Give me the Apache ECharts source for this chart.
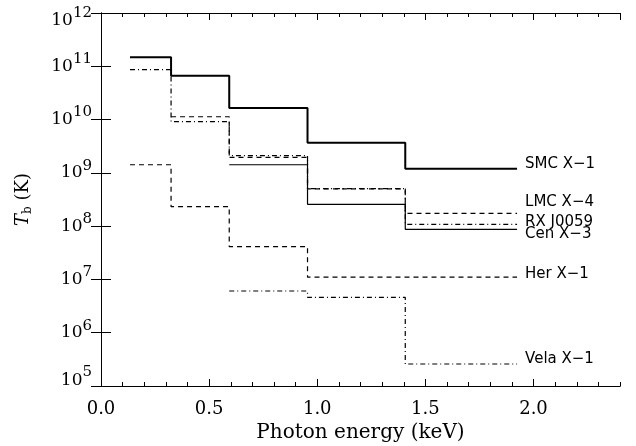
<!DOCTYPE html>
<html>
<head>
<meta charset="utf-8">
<script src="https://cdn.jsdelivr.net/npm/echarts@6/dist/echarts.min.js"></script>
<style>
  html, body {margin: 0; padding: 0; background: #fff;}
  #chart {width: 636px; height: 446px;}
</style>
</head>
<body>
<div id="chart"></div>
<script>
// energy bin edges (keV)
const binEdges = [0.134, 0.324, 0.593, 0.955, 1.407, 1.924]

// brightness temperature per bin (K), null where the source has no value
const smcX1 = [1.47e11, 6.67e10, 1.65e10, 3.69e9, 1.20e9]
const lmcX4 = [null, 1.13e10, 1.96e9, 5.0e8, 1.74e8]
const rxJ0059 = [8.65e10, 9.14e9, 2.10e9, 5.05e8, 1.08e8]
const cenX3 = [null, null, 1.42e9, 2.57e8, 8.7e7]
const herX1 = [1.42e9, 2.32e8, 4.12e7, 1.10e7, 1.10e7]
const velaX1 = [null, null, 6.07e6, 4.62e6, 2.59e5]

const xTicks = [0, 0.5, 1.0, 1.5, 2.0]
const yExponents = [5, 6, 7, 8, 9, 10, 11, 12]

// turn bin values into step points: [left edge, value] ... [last right edge, last value]
function toSteps(values) {
  let pts = []
  for (let i = 0; i < values.length; i++) {
    if (values[i] == null) continue
    pts.push([binEdges[i], values[i]])
  }
  let last = values.length - 1
  pts.push([binEdges[last + 1], values[last]])
  return pts
}

let myChart = echarts.init(document.getElementById('chart'))

const serif = 'DejaVu Serif'
const sans = 'DejaVu Sans'

function stepSeries(name, values, lineType, width, dy) {
  return {
    name: name,
    type: 'line',
    step: 'end',
    data: toSteps(values),
    symbol: 'none',
    silent: true,
    animation: false,
    lineStyle: {color: '#000', width: width, type: lineType},
    endLabel: {
      show: true,
      formatter: name,
      distance: 8,
      offset: [0, dy],
      color: '#000',
      fontFamily: sans,
      fontSize: 15
    }
  }
}

let xBase = {
  type: 'value',
  min: 0,
  max: 2.4,
  splitLine: {show: false},
  axisLine: {show: true, onZero: false, lineStyle: {color: '#000', width: 1}}
}

// y tick label: "10" with the exponent raised; the end labels sit inside the frame
function yLabel(v) {
  let e = Math.round(Math.log10(v))
  if (!yExponents.includes(e)) return ''
  let k = e === 12 ? 'top' : (e === 5 ? 'bot' : 'mid')
  return '{b' + k + '|10}{s' + k + '|' + e + '}'
}

const bStyle = {color: '#000', fontFamily: serif, fontSize: 17}
const sStyle = {color: '#000', fontFamily: serif, fontSize: 15}

let option = {
  backgroundColor: '#fff',
  animation: false,
  grid: {left: 101, right: 16, top: 13, bottom: 60, containLabel: false, outerBoundsMode: 'none'},
  xAxis: [
    Object.assign({}, xBase, {
      position: 'bottom',
      interval: 0.5,
      axisTick: {inside: true, length: 7, lineStyle: {color: '#000'}},
      axisLabel: {
        showMaxLabel: false,
        margin: 14,
        color: '#000',
        fontFamily: serif,
        fontSize: 18,
        formatter: v => xTicks.includes(v) ? v.toFixed(1) : ''
      },
      name: 'Photon energy (keV)',
      nameLocation: 'middle',
      nameGap: 37,
      nameTextStyle: {color: '#000', fontFamily: serif, fontSize: 20}
    }),
    Object.assign({}, xBase, {
      position: 'bottom',
      interval: 0.1,
      axisTick: {inside: true, length: 4, lineStyle: {color: '#000'}},
      axisLabel: {show: false}
    }),
    Object.assign({}, xBase, {
      position: 'top',
      interval: 0.5,
      axisTick: {inside: true, length: 7, lineStyle: {color: '#000'}},
      axisLabel: {show: false}
    }),
    Object.assign({}, xBase, {
      position: 'top',
      interval: 0.1,
      axisTick: {inside: true, length: 4, lineStyle: {color: '#000'}},
      axisLabel: {show: false}
    })
  ],
  yAxis: [
    {
      type: 'log',
      logBase: 10,
      min: 1e5,
      max: 1e12,
      splitNumber: 7,
      position: 'left',
      splitLine: {show: false},
      axisLine: {show: true, lineStyle: {color: '#000', width: 1}},
      axisTick: {inside: true, length: 10, lineStyle: {color: '#000'}},
      axisLabel: {
        margin: 9,
        formatter: yLabel,
        rich: {
          bmid: bStyle,
          smid: Object.assign({padding: [0, 0, 14, 0]}, sStyle),
          btop: Object.assign({padding: [16, 0, 0, 0]}, bStyle),
          stop: Object.assign({padding: [0, 0, 0, 0]}, sStyle),
          bbot: Object.assign({padding: [0, 0, 10, 0]}, bStyle),
          sbot: Object.assign({padding: [0, 0, 28, 0]}, sStyle)
        }
      },
      name: '{i|T}{sub|b} (K)',
      nameLocation: 'middle',
      nameRotate: 90,
      nameGap: 67,
      nameTextStyle: {
        rich: {
          i: {color: '#000', fontFamily: serif, fontStyle: 'italic', fontSize: 18},
          sub: {color: '#000', fontFamily: serif, fontSize: 12, padding: [10, 0, 0, 0]}
        },
        color: '#000',
        fontFamily: serif,
        fontSize: 18
      }
    },
    {
      type: 'log',
      logBase: 10,
      min: 1e5,
      max: 1e12,
      splitNumber: 7,
      position: 'right',
      splitLine: {show: false},
      axisLine: {show: true, lineStyle: {color: '#000', width: 1}},
      axisTick: {inside: true, length: 10, lineStyle: {color: '#000'}},
      axisLabel: {show: false}
    }
  ],
  series: [
    stepSeries('SMC X\u22121', smcX1, 'solid', 2, -5),
    stepSeries('LMC X\u22124', lmcX4, [5, 4], 1.2, -11),
    stepSeries('RX J0059', rxJ0059, [5, 3, 1, 3], 1.2, -2),
    stepSeries('Cen X\u22123', cenX3, 'solid', 1.2, 5),
    stepSeries('Her X\u22121', herX1, [5, 4], 1.2, -3),
    stepSeries('Vela X\u22121', velaX1, [5, 3, 1, 3], 1.2, -5)
  ]
}
myChart.setOption(option)
</script>
</body>
</html>
